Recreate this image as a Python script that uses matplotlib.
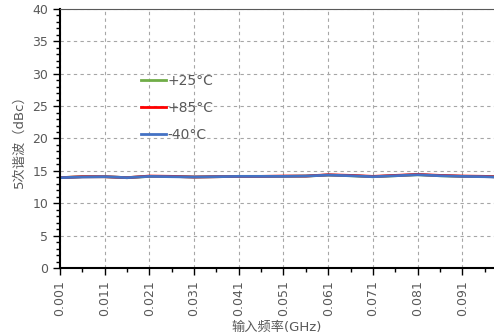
import numpy as np
import matplotlib
matplotlib.use("Agg")
import matplotlib.pyplot as plt
from matplotlib.ticker import MultipleLocator

plt.rcParams['font.family'] = ['DejaVu Sans', 'Noto Sans CJK SC']

# 输入频率 (GHz)
freq = [0.001, 0.006, 0.011, 0.016, 0.021, 0.026, 0.031, 0.036, 0.041, 0.046,
        0.051, 0.056, 0.061, 0.066, 0.071, 0.076, 0.081, 0.086, 0.091, 0.096, 0.098]
# 5次谐波 (dBc)
h_p25 = [13.95, 14.1, 14.1, 13.95, 14.15, 14.15, 14.05, 14.1, 14.15, 14.15,
         14.15, 14.2, 14.35, 14.25, 14.1, 14.25, 14.4, 14.25, 14.15, 14.15, 14.1]
h_p85 = [13.95, 14.1, 14.1, 13.95, 14.2, 14.15, 14.05, 14.1, 14.15, 14.15,
         14.2, 14.2, 14.4, 14.3, 14.15, 14.3, 14.45, 14.3, 14.2, 14.15, 14.1]
h_m40 = [13.95, 14.05, 14.1, 13.95, 14.15, 14.1, 14.05, 14.1, 14.15, 14.15,
         14.15, 14.2, 14.35, 14.25, 14.1, 14.25, 14.4, 14.25, 14.15, 14.1, 14.05]

xticks = [0.001, 0.011, 0.021, 0.031, 0.041, 0.051, 0.061, 0.071, 0.081, 0.091]
labels = ['+25°C', '+85°C', '-40°C']
colors = ['#70AD47', '#FF0000', '#4472C4']

fig = plt.figure(figsize=(4.94, 3.36), dpi=100)
ax = fig.add_axes([60 / 494, 68 / 336, 434 / 494, 259 / 336])

for y, lab, c in zip([h_p25, h_p85, h_m40], labels, colors):
    ax.plot(freq, y, color=c, lw=2, label=lab)

ax.set_xlim(0.001, 0.0981)
ax.set_ylim(0, 40)
ax.set_xticks(xticks)
ax.set_xticklabels([f"{v:.3f}" for v in xticks], rotation=90)
# minor x ticks half-way between labels
ax.set_xticks([v + 0.005 for v in xticks], minor=True)
ax.set_yticks(range(0, 41, 5))
ax.yaxis.set_minor_locator(MultipleLocator(1))

ax.tick_params(axis='both', which='major', direction='out', length=5,
               labelsize=9, labelcolor='#595959', width=1)
ax.tick_params(axis='both', which='minor', direction='out', length=3, width=1)
ax.grid(True, which='major', ls=(0, (3, 3)), color='#A6A6A6', lw=0.8)

ax.spines['left'].set_color('black')
ax.spines['bottom'].set_color('black')
ax.spines['left'].set_linewidth(1.5)
ax.spines['bottom'].set_linewidth(1.5)
ax.spines['top'].set_color('#595959')
ax.spines['right'].set_visible(False)

ax.set_xlabel('输入频率(GHz)', fontsize=9.5, color='#595959', labelpad=4)
ax.set_ylabel('5次谐波（dBc）', fontsize=9.5, color='#595959', labelpad=5)

leg = ax.legend(loc='upper left', bbox_to_anchor=(0.17, 0.776), frameon=False,
                fontsize=10, handlelength=1.8, handletextpad=0.1,
                labelspacing=0.95, borderpad=0)
for t in leg.get_texts():
    t.set_color('#595959')

fig.savefig('out.png', dpi=100)
